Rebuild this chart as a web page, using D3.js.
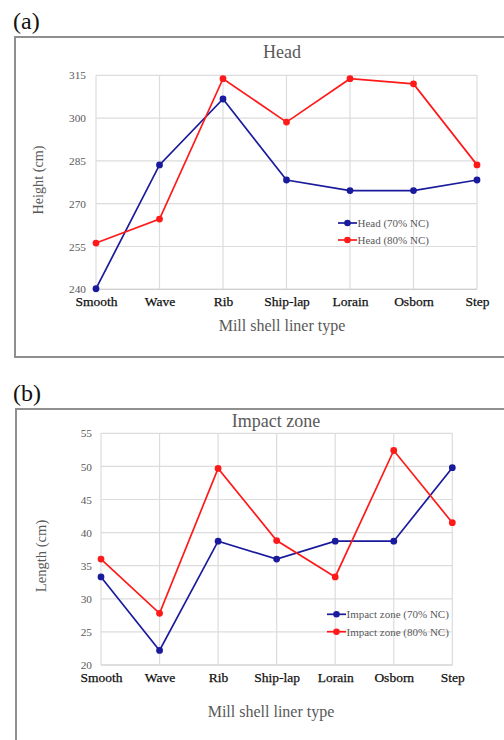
<!DOCTYPE html>
<html>
<head>
<meta charset="utf-8">
<script src="https://cdn.jsdelivr.net/npm/d3@7"></script>
<style>
  html, body { margin: 0; padding: 0; background: #fff; }
  svg { display: block; }
  text { font-family: "Liberation Serif", "Times New Roman", serif; }
</style>
</head>
<body>
<svg id="chart" width="504" height="740"></svg>
<script>
const categories = ["Smooth", "Wave", "Rib", "Ship-lap", "Lorain", "Osborn", "Step"];

const headTicks = [240, 255, 270, 285, 300, 315];
const head70 = [240.2, 283.6, 306.7, 278.3, 274.6, 274.6, 278.3];
const head80 = [256.2, 264.6, 313.8, 298.6, 313.8, 312.0, 283.6];

const impactTicks = [20, 25, 30, 35, 40, 45, 50, 55];
const impact70 = [33.3, 22.2, 38.7, 36.0, 38.7, 38.7, 49.8];
const impact80 = [36.0, 27.8, 49.7, 38.8, 33.3, 52.4, 41.5];

const BLUE = "#1a1a9c", RED = "#ff1a1a";
const svg = d3.select("#chart");

function panel(cfg) {
  const g = svg.append("g");
  // panel label
  g.append("text").attr("x", cfg.labelX).attr("y", cfg.labelY)
    .attr("font-size", 24).attr("fill", "#111").text(cfg.label);
  // frame (open on the right / bottom where it runs off)
  g.append("path")
    .attr("d", cfg.framePath)
    .attr("fill", "none").attr("stroke", "#8f8f8f").attr("stroke-width", 2);

  const x = d3.scalePoint().domain(categories).range([cfg.left, cfg.right]).padding(0);
  const y = d3.scaleLinear().domain(cfg.domain).range([cfg.bottom, cfg.top]);

  // grid
  g.append("g").selectAll("line.h").data(cfg.ticks).join("line")
    .attr("x1", cfg.left).attr("x2", cfg.right)
    .attr("y1", d => y(d)).attr("y2", d => y(d))
    .attr("stroke", "#dcdcdc").attr("stroke-width", 1.2);
  g.append("g").selectAll("line.v").data(categories).join("line")
    .attr("x1", d => x(d)).attr("x2", d => x(d))
    .attr("y1", cfg.top).attr("y2", cfg.bottom)
    .attr("stroke", "#dcdcdc").attr("stroke-width", 1.2);
  // bottom axis line
  g.append("line").attr("x1", cfg.left).attr("x2", cfg.right)
    .attr("y1", cfg.bottom).attr("y2", cfg.bottom)
    .attr("stroke", "#d0d0d0").attr("stroke-width", 1.2);

  // y tick labels via axis
  const yAxis = d3.axisLeft(y).tickValues(cfg.ticks).tickSize(0).tickPadding(cfg.tickPad);
  const ya = g.append("g").attr("transform", `translate(${cfg.left},0)`).call(yAxis);
  ya.select(".domain").remove();
  ya.selectAll("text").attr("font-family", "Liberation Serif, serif")
    .attr("font-size", 11.3).attr("fill", "#595959");

  // x tick labels via axis
  const xAxis = d3.axisBottom(x).tickSize(0).tickPadding(cfg.xPad);
  const xa = g.append("g").attr("transform", `translate(0,${cfg.bottom})`).call(xAxis);
  xa.select(".domain").remove();
  xa.selectAll("text").attr("font-family", "Liberation Serif, serif")
    .attr("font-size", 13.5).attr("fill", "#111")
    .attr("stroke", "#111").attr("stroke-width", 0.25);

  // title
  g.append("text").attr("x", cfg.titleX).attr("y", cfg.titleY)
    .attr("text-anchor", "middle").attr("font-size", 18).attr("fill", "#595959")
    .text(cfg.title);
  // y axis title
  g.append("text")
    .attr("transform", `translate(${cfg.yTitleX},${cfg.yTitleY}) rotate(-90)`)
    .attr("text-anchor", "middle").attr("font-size", cfg.yTitleSize).attr("fill", "#595959")
    .text(cfg.yTitle);
  // x axis title
  g.append("text").attr("x", cfg.xTitleX).attr("y", cfg.xTitleY)
    .attr("text-anchor", "middle").attr("font-size", 16).attr("fill", "#595959")
    .text("Mill shell liner type");

  const line = d3.line().x((d, i) => x(categories[i])).y(d => y(d));
  const series = [
    { name: cfg.names[0], values: cfg.s1, color: BLUE },
    { name: cfg.names[1], values: cfg.s2, color: RED }
  ];
  series.forEach(s => {
    g.append("path").datum(s.values).attr("d", line)
      .attr("fill", "none").attr("stroke", s.color).attr("stroke-width", 1.7);
    g.append("g").selectAll("circle").data(s.values).join("circle")
      .attr("cx", (d, i) => x(categories[i])).attr("cy", d => y(d))
      .attr("r", 3.4).attr("fill", s.color);
  });

  // legend
  series.forEach((s, i) => {
    const ly = cfg.legY + i * cfg.legGap;
    g.append("line").attr("x1", cfg.legX).attr("x2", cfg.legX + cfg.legLen)
      .attr("y1", ly).attr("y2", ly).attr("stroke", s.color).attr("stroke-width", 1.7);
    g.append("circle").attr("cx", cfg.legX + cfg.legLen / 2).attr("cy", ly)
      .attr("r", 3.3).attr("fill", s.color);
    g.append("text").attr("x", cfg.legX + cfg.legLen + 0.5).attr("y", ly + 4)
      .attr("font-size", 11).attr("fill", "#595959").text(s.name);
  });
}

panel({
  label: "(a)", labelX: 13, labelY: 29,
  framePath: "M506,37 H15 V357 H506",
  left: 96, right: 477, top: 75.3, bottom: 289.3,
  domain: [240, 315], ticks: headTicks, tickPad: 10, xPad: 7.5,
  title: "Head", titleX: 282, titleY: 58,
  yTitle: "Height (cm)", yTitleSize: 14.2, yTitleX: 43, yTitleY: 180,
  xTitleX: 282, xTitleY: 331,
  s1: head70, s2: head80,
  names: ["Head (70% NC)", "Head (80% NC)"],
  legX: 338, legY: 223, legGap: 17, legLen: 19
});

panel({
  label: "(b)", labelX: 13, labelY: 401,
  framePath: "M506,409 H16 V742",
  left: 101, right: 452.3, top: 433.3, bottom: 665,
  domain: [20, 55], ticks: impactTicks, tickPad: 9, xPad: 7.5,
  title: "Impact zone", titleX: 276, titleY: 427,
  yTitle: "Length (cm)", yTitleSize: 14.6, yTitleX: 46, yTitleY: 556,
  xTitleX: 271, xTitleY: 717,
  s1: impact70, s2: impact80,
  names: ["Impact zone (70% NC)", "Impact zone (80% NC)"],
  legX: 327, legY: 614.3, legGap: 17.4, legLen: 19
});
</script>
</body>
</html>
